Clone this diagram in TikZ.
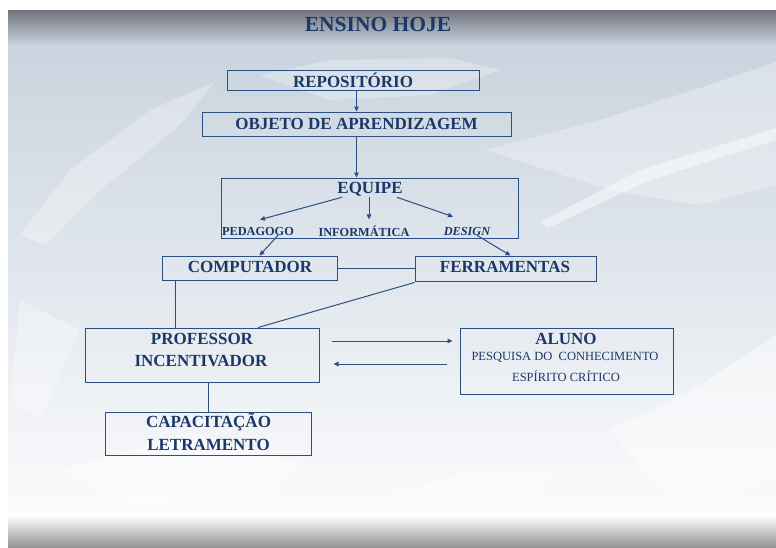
\documentclass[tikz,border=0pt]{standalone}
\usepackage{fontspec}
\setmainfont{Liberation Serif}
\usetikzlibrary{calc,arrows.meta}
\definecolor{navy}{HTML}{1B3868}
\definecolor{boxline}{HTML}{2B4F80}
\definecolor{topdark}{HTML}{6F737D}
\definecolor{toplight}{HTML}{C7D0DB}
\definecolor{bodytop}{HTML}{CAD3DE}
\definecolor{bodymid}{HTML}{E4E9EF}
\definecolor{bodybot}{HTML}{FBFBFC}
\definecolor{botgray}{HTML}{959595}
\tikzset{
  box/.style={draw=boxline, line width=1pt, inner sep=0pt},
  lbl/.style={text=navy, font=\fontsize{17}{19}\selectfont\bfseries, inner sep=1pt},
  small/.style={text=navy, font=\fontsize{12.3}{14}\selectfont\bfseries, inner sep=1pt},
  tiny/.style={text=navy, font=\fontsize{12.5}{14}\selectfont, inner sep=1pt},
  conn/.style={draw=boxline, line width=1pt},
  arr/.style={conn, -{Triangle[length=5pt,width=4.5pt]}},
  leaf/.style={fill=white, draw=none}
}
\begin{document}
\begin{tikzpicture}[x=1pt,y=-1pt]
\useasboundingbox (0,0) rectangle (776,547);
% background
\fill[white] (0,0) rectangle (776,547);
\shade[top color=bodytop, bottom color=bodymid] (8,42) rectangle (776,300);
\shade[top color=bodymid, bottom color=bodybot] (8,300) rectangle (776,515);
\shade[top color=topdark, bottom color=toplight] (8,10) rectangle (776,44);
\shade[top color=white, bottom color=botgray] (8,515) rectangle (776,547);
% faint leaves
\fill[leaf, opacity=0.30] (20,235) -- (70,170) -- (150,110) -- (215,82) -- (180,125) -- (95,195) -- (45,245) -- cycle;
\fill[leaf, opacity=0.28] (260,75) -- (330,60) -- (450,58) -- (500,70) -- (430,95) -- (330,100) -- cycle;
\fill[leaf, opacity=0.30] (485,150) -- (600,120) -- (700,88) -- (776,62) -- (776,185) -- (700,205) -- (610,190) -- cycle;
\fill[leaf, opacity=0.45] (540,222) -- (640,170) -- (776,128) -- (776,140) -- (645,182) -- (548,228) -- cycle;
\fill[leaf, opacity=0.45] (610,430) -- (700,385) -- (776,335) -- (776,475) -- (705,505) -- (650,480) -- cycle;
\fill[leaf, opacity=0.40] (60,470) -- (190,432) -- (300,462) -- (270,500) -- (130,505) -- cycle;
\fill[leaf, opacity=0.35] (380,500) -- (470,470) -- (560,470) -- (520,505) -- (420,512) -- cycle;
\fill[leaf, opacity=0.30] (20,300) -- (80,330) -- (40,420) -- (10,400) -- cycle;
% title
\node[text=navy, font=\fontsize{21.5}{24}\selectfont\bfseries, inner sep=1pt] (title) at (378,24) {ENSINO HOJE};
% boxes
\node[box, minimum width=252pt, minimum height=20pt] (repo) at (353,80) {};
\node[lbl] (repot) at (353,80) {REPOSITÓRIO};
\node[box, minimum width=309pt, minimum height=24pt] (obj) at (356.5,124) {};
\node[lbl] (objt) at (356.5,124) {OBJETO DE APRENDIZAGEM};
\node[box, minimum width=297pt, minimum height=60pt] (eqbox) at (369.5,208) {};
\node[lbl] (eq) at (370,189) {EQUIPE};
\node[small] (ped) at (258,231) {PEDAGOGO};
\node[small] (inf) at (364,231) {INFORMÁTICA};
\node[small] (des) at (467,231) {\itshape DESIGN};
\node[box, minimum width=175pt, minimum height=24pt] (comp) at (249.5,268) {};
\node[lbl] (compt) at (250,267) {COMPUTADOR};
\node[box, minimum width=181pt, minimum height=25pt] (ferr) at (505.5,268.5) {};
\node[lbl] (ferrt) at (505,267) {FERRAMENTAS};
\node[box, minimum width=234pt, minimum height=54pt] (prof) at (202,355) {};
\node[lbl] (proft1) at (202,339) {PROFESSOR};
\node[lbl] (proft2) at (201,361) {INCENTIVADOR};
\node[box, minimum width=213pt, minimum height=66pt] (aluno) at (566.5,361) {};
\node[lbl] (alunot) at (566,339) {ALUNO};
\node[tiny] (alunot2) at (565,357) {PESQUISA DO\ \ CONHECIMENTO};
\node[tiny] (alunot3) at (566,376) {ESPÍRITO CRÍTICO};
\node[box, minimum width=206pt, minimum height=43pt] (capac) at (208,433.5) {};
\node[lbl] (capt1) at (208.5,422) {CAPACITAÇÃO};
\node[lbl] (capt2) at (208.5,445) {LETRAMENTO};
% connectors
\draw[arr] (obj.north |- repo.south) -- (obj.north);
\draw[arr] (obj.south) -- (obj.south |- eqbox.north);
\draw[arr] ($(eq.south west)+(6,0)$) -- ($(ped.north)+(2,-6)$);
\coordinate (infend) at ($(inf.north)+(5,-5)$);
\draw[arr] (infend |- eq.south) -- (infend);
\draw[arr] ($(eq.south east)+(-7,0)$) -- ($(des.north)+(-14,-9)$);
\draw[arr] ($(ped.south)+(20,-1)$) -- ($(comp.north)+(10,0)$);
\draw[arr] ($(des.south)+(10,-1)$) -- ($(ferr.north)+(5,0)$);
\draw[conn] (comp.east) -- (comp.east -| ferr.west);
\draw[conn] ($(comp.south west)+(14,0)$) coordinate (cdrop) -- (cdrop |- prof.north);
\draw[conn] ($(ferr.south west)+(0,1)$) -- ($(prof.north)+(56,0)$);
\draw[arr] ($(prof.east)+(12,-14)$) -- ($(aluno.west |- prof.east)+(-7,-14)$);
\draw[arr] ($(aluno.west |- prof.east)+(-13,9)$) -- ($(prof.east)+(14,9)$);
\draw[conn] (capac.north |- prof.south) -- (capac.north);
\end{tikzpicture}
\end{document}
